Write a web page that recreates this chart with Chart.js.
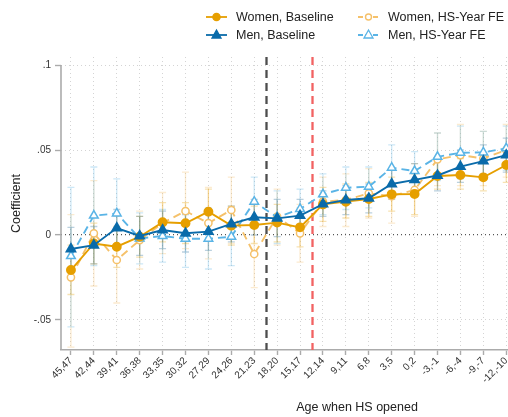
<!DOCTYPE html>
<html>
<head>
<meta charset="utf-8">
<script src="https://cdn.jsdelivr.net/npm/chart.js@4/dist/chart.umd.min.js"></script>
<style>
  html, body { margin: 0; padding: 0; background: #fff; overflow: hidden; width: 508px; height: 417px; }
  #wrap { position: absolute; left: 0; top: 0; width: 660px; height: 417px; }
  #legend { position: absolute; left: 0; top: 0; width: 508px; height: 50px;
            font-family: "Liberation Sans", Arial, sans-serif; font-size: 12.5px; color: #222; }
  .item { position: absolute; display: flex; align-items: center; height: 16px; white-space: nowrap; }
  .item svg { margin-right: 9px; display: block; }
</style>
</head>
<body>
<div id="wrap"><canvas id="c" width="660" height="417"></canvas></div>
<div id="legend"></div>
<script>
// Birth-cohort bins: age when the high school opened
const CATEGORIES = ['45,47','42,44','39,41','36,38','33,35','30,32','27,29','24,26','21,23','18,20',
                    '15,17','12,14','9,11','6,8','3,5','0,2','-3,-1','-6,-4','-9,-7','-12,-10'];

const Y_TICKS = [-0.05, 0, 0.05, 0.1];
const Y_TICK_LABELS = ['-.05', '0', '.05', '.1'];

// Women, Baseline
const womenBase   = [-0.0206,-0.0050,-0.0069,-0.0010, 0.0075, 0.0069, 0.0137, 0.0055, 0.0059, 0.0073,
                      0.0045, 0.0180, 0.0196, 0.0212, 0.0239, 0.0241, 0.0347, 0.0353, 0.0339, 0.0412];
const womenBaseLo = [-0.035,-0.017,-0.019,-0.013,-0.004,-0.005, 0.001,-0.006,-0.005,-0.004,
                     -0.007, 0.008, 0.010, 0.011, 0.014, 0.012, 0.027, 0.027, 0.026, 0.031];
const womenBaseHi = [-0.006, 0.007, 0.005, 0.011, 0.019, 0.019, 0.027, 0.017, 0.017, 0.018,
                      0.016, 0.028, 0.030, 0.031, 0.034, 0.036, 0.045, 0.045, 0.044, 0.051];

// Women, HS-Year FE
const womenFE     = [-0.0249, 0.0010,-0.0147,-0.0030, 0.0070, 0.0141, 0.0070, 0.0147,-0.0112, 0.0108,
                      0.0010, 0.0196, 0.0206, 0.0245, 0.0229, 0.0265, 0.0445, 0.0470, 0.0450, 0.0500];
const womenFELo   = [-0.066,-0.030,-0.040,-0.020,-0.011,-0.008,-0.014,-0.005,-0.031,-0.006,
                     -0.016, 0.005, 0.005, 0.010, 0.007, 0.011, 0.029, 0.029, 0.029, 0.034];
const womenFEHi   = [ 0.012, 0.032, 0.011, 0.014, 0.025, 0.037, 0.028, 0.034, 0.009, 0.027,
                      0.018, 0.034, 0.036, 0.039, 0.038, 0.042, 0.060, 0.065, 0.061, 0.065];

// Men, Baseline
const menBase     = [-0.0082,-0.0060, 0.0041,-0.0006, 0.0029, 0.0010, 0.0020, 0.0065, 0.0104, 0.0098,
                      0.0114, 0.0182, 0.0206, 0.0216, 0.0300, 0.0324, 0.0350, 0.0402, 0.0435, 0.0470];
const menBaseLo   = [-0.021,-0.017,-0.007,-0.012,-0.008,-0.010,-0.009,-0.004, 0.000,-0.001,
                      0.002, 0.011, 0.012, 0.013, 0.021, 0.023, 0.026, 0.031, 0.034, 0.037];
const menBaseHi   = [ 0.0045, 0.005, 0.015, 0.011, 0.014, 0.012, 0.013, 0.017, 0.021, 0.021,
                      0.021, 0.026, 0.029, 0.030, 0.039, 0.042, 0.044, 0.050, 0.053, 0.057];

// Men, HS-Year FE
const menFE       = [-0.0124, 0.0114, 0.0127,-0.0020,-0.0006,-0.0022,-0.0022,-0.0010, 0.0196, 0.0104,
                      0.0153, 0.0239, 0.0278, 0.0284, 0.0396, 0.0376, 0.0460, 0.0484, 0.0486, 0.0510];
const menFELo     = [-0.054,-0.018,-0.008,-0.017,-0.016,-0.019,-0.020,-0.018, 0.005,-0.005,
                      0.003, 0.012, 0.015, 0.016, 0.026, 0.026, 0.032, 0.033, 0.036, 0.038];
const menFEHi     = [ 0.028, 0.040, 0.033, 0.013, 0.015, 0.015, 0.016, 0.016, 0.034, 0.026,
                      0.027, 0.036, 0.040, 0.040, 0.053, 0.049, 0.060, 0.064, 0.061, 0.064];

// Reference cut-offs between cohort bins
const CUTOFF_BLACK = 8.5;
const CUTOFF_RED = 10.5;

const ORANGE = '#E69F00', ORANGE_LIGHT = '#F5C16A';
const BLUE = '#0A6BAA', BLUE_LIGHT = '#5AB4E6';
const FONT = '"Liberation Sans", Arial, sans-serif';

const toXY = arr => arr.map((v, i) => ({ x: i, y: v }));

const datasets = [
  { label: 'Women, Baseline', data: toXY(womenBase), ciLo: womenBaseLo, ciHi: womenBaseHi,
    ciColor: 'rgba(230,159,0,0.3)', borderColor: ORANGE, backgroundColor: ORANGE,
    pointStyle: 'circle', pointRadius: 4, pointBackgroundColor: ORANGE, pointBorderColor: ORANGE,
    borderWidth: 1.9, order: 2, dash: [] },
  { label: 'Women, HS-Year FE', data: toXY(womenFE), ciLo: womenFELo, ciHi: womenFEHi,
    ciColor: 'rgba(245,190,100,0.3)', borderColor: ORANGE_LIGHT, backgroundColor: '#fff',
    pointStyle: 'circle', pointRadius: 3.6, pointBackgroundColor: '#fff', pointBorderColor: ORANGE_LIGHT,
    pointBorderWidth: 1.5, borderWidth: 1.9, borderDash: [8, 5], order: 4, dash: [8, 5] },
  { label: 'Men, Baseline', data: toXY(menBase), ciLo: menBaseLo, ciHi: menBaseHi,
    ciColor: 'rgba(10,90,140,0.28)', borderColor: BLUE, backgroundColor: BLUE,
    pointStyle: 'triangle', pointRadius: 5, pointBackgroundColor: BLUE, pointBorderColor: BLUE,
    borderWidth: 1.9, order: 1, dash: [] },
  { label: 'Men, HS-Year FE', data: toXY(menFE), ciLo: menFELo, ciHi: menFEHi,
    ciColor: 'rgba(90,180,230,0.3)', borderColor: BLUE_LIGHT, backgroundColor: '#fff',
    pointStyle: 'triangle', pointRadius: 5, pointBackgroundColor: '#fff', pointBorderColor: BLUE_LIGHT,
    pointBorderWidth: 1.5, borderWidth: 1.9, borderDash: [8, 5], order: 3, dash: [8, 5] }
];
datasets.forEach(d => { d.fill = false; d.tension = 0; d.pointHoverRadius = d.pointRadius; });

// Confidence-interval caps drawn behind the lines
const ciBars = {
  id: 'ciBars',
  beforeDatasetsDraw(chart) {
    const { ctx, scales: { x, y } } = chart;
    ctx.save();
    ctx.setLineDash([]);
    ctx.lineWidth = 1.3;
    [...chart.data.datasets].sort((a, b) => b.order - a.order).forEach(ds => {
      ctx.strokeStyle = ds.ciColor;
      ds.data.forEach((pt, i) => {
        const px = x.getPixelForValue(pt.x);
        const top = y.getPixelForValue(ds.ciHi[i]);
        const bot = y.getPixelForValue(ds.ciLo[i]);
        ctx.beginPath();
        ctx.moveTo(px, top); ctx.lineTo(px, bot);
        ctx.moveTo(px - 3.5, top); ctx.lineTo(px + 3.5, top);
        ctx.moveTo(px - 3.5, bot); ctx.lineTo(px + 3.5, bot);
        ctx.stroke();
      });
    });
    ctx.restore();
  }
};

// Y axis line (from the top tick down) and the two dashed cut-off lines
const frame = {
  id: 'frame',
  beforeDatasetsDraw(chart) {
    const { ctx, chartArea: a, scales: { x, y } } = chart;
    ctx.save();
    ctx.strokeStyle = '#ababab';
    ctx.lineWidth = 1.6;
    ctx.beginPath();
    ctx.moveTo(a.left, y.getPixelForValue(Y_TICKS[Y_TICKS.length - 1]));
    ctx.lineTo(a.left, a.bottom);
    ctx.stroke();

    ctx.lineWidth = 2.3;
    ctx.setLineDash([8, 5]);
    [[CUTOFF_BLACK, '#4d4d4d'], [CUTOFF_RED, '#f26262']].forEach(([v, c]) => {
      const px = Math.round(x.getPixelForValue(v)) + 0.5;
      ctx.strokeStyle = c;
      ctx.beginPath();
      ctx.moveTo(px, a.top);
      ctx.lineTo(px, a.bottom);
      ctx.stroke();
    });
    ctx.restore();
  }
};

new Chart(document.getElementById('c'), {
  type: 'line',
  data: { datasets },
  plugins: [ciBars, frame],
  options: {
    responsive: false,
    animation: false,
    layout: { padding: { top: 57, left: 0, right: 3, bottom: 0 } },
    plugins: { legend: { display: false }, tooltip: { enabled: false } },
    scales: {
      x: {
        type: 'linear',
        min: -0.434,
        max: 25.41,
        afterBuildTicks: s => { s.ticks = CATEGORIES.map((_, i) => ({ value: i })); },
        afterFit: s => { s.height = 67; },
        ticks: {
          autoSkip: false, minRotation: 45, maxRotation: 45, padding: 0,
          font: { family: FONT, size: 10 }, color: '#333',
          callback: v => CATEGORIES[v]
        },
        grid: { color: '#d4d4d4', lineWidth: 1, tickLength: 5, tickColor: '#ababab',
                tickWidth: 1.4, tickBorderDash: [] },
        border: { display: true, color: '#ababab', width: 1.6, dash: [1, 3] },
        title: { display: true, text: 'Age when HS opened', color: '#222',
                 font: { family: FONT, size: 12.5 }, padding: { top: 0, bottom: 2 } }
      },
      y: {
        type: 'linear',
        min: -0.06765,
        max: 0.10471,
        afterBuildTicks: s => { s.ticks = Y_TICKS.map(v => ({ value: v })); },
        afterFit: s => { s.width = 61; },
        ticks: {
          padding: 4, font: { family: FONT, size: 10 }, color: '#333',
          callback: v => Y_TICK_LABELS[Y_TICKS.indexOf(v)]
        },
        grid: {
          color: c => (c.tick && c.tick.value === 0) ? '#555' : '#d4d4d4',
          lineWidth: c => (c.tick && c.tick.value === 0) ? 1.3 : 1,
          tickLength: 6, tickColor: '#ababab', tickWidth: 1.4, tickBorderDash: []
        },
        border: { display: false, dash: [1, 3] },
        title: { display: true, text: 'Coefficient', color: '#222',
                 font: { family: FONT, size: 12.5 }, padding: { top: 9.5, bottom: 0 } }
      }
    }
  }
});

// Two-column legend: line sample with marker, then the series name
const LEGEND_SLOTS = [
  { ds: 0, left: 206, top: 9 },
  { ds: 1, left: 358, top: 9 },
  { ds: 2, left: 206, top: 27 },
  { ds: 3, left: 358, top: 27 }
];
const legend = document.getElementById('legend');
LEGEND_SLOTS.forEach(slot => {
  const d = datasets[slot.ds];
  const dash = d.dash.length ? ' stroke-dasharray="5,2.5"' : '';
  const marker = d.pointStyle === 'circle'
    ? `<circle cx="10.5" cy="7" r="${d.pointBackgroundColor === '#fff' ? 3 : 3.6}" fill="${d.pointBackgroundColor}" stroke="${d.pointBorderColor}" stroke-width="1.4"/>`
    : `<polygon points="10.5,2 15,10 6,10" fill="${d.pointBackgroundColor}" stroke="${d.pointBorderColor}" stroke-width="1.3"/>`;
  const el = document.createElement('div');
  el.className = 'item';
  el.style.left = slot.left + 'px';
  el.style.top = slot.top + 'px';
  el.innerHTML = `<svg width="21" height="14"><line x1="0" y1="7" x2="21" y2="7" stroke="${d.borderColor}" stroke-width="1.8"${dash}/>${marker}</svg><span>${d.label}</span>`;
  legend.appendChild(el);
});
</script>
</body>
</html>
